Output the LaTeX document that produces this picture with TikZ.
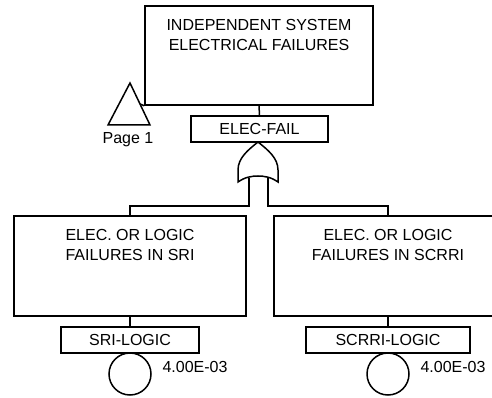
\documentclass[tikz,border=0pt]{standalone}
\usepackage{fontspec}
\setmainfont{Liberation Sans}
\usetikzlibrary{positioning,calc}

\tikzset{
  evbox/.style={draw,line width=1.5pt,minimum width=#1,minimum height=99},
  evtext/.style={anchor=north,inner sep=0pt,align=center},
  labbox/.style={draw,line width=1.5pt,minimum width=#1,minimum height=26,inner sep=0pt},
  basic/.style={draw,line width=1.5pt,circle,minimum size=42,inner sep=0pt},
  conn/.style={line width=1.5pt}
}

\begin{document}
\begin{tikzpicture}[x=1pt,y=-1pt,font=\fontsize{16}{20}\selectfont]
  \useasboundingbox (0,0) rectangle (492,398);
  \clip (0,0) rectangle (492,398);

  % top event
  \node[evbox=228] (top) at (259,55.5) {};
  \node[evtext] (toptxt) at ($(top.north)+(0,14)$) {INDEPENDENT SYSTEM\\ELECTRICAL FAILURES};
  \node[labbox=137] (elecfail) at (259.5,129) {ELEC-FAIL};
  \draw[conn] (top.south) -- (elecfail.north);

  % transfer to page 1
  \draw[conn] (108,125) -- (130,83) -- (150,125) -- cycle;
  \coordinate (xfer) at (140,104);
  \draw[conn] (xfer) -- (top.south west);
  \node[anchor=base] (page) at (128,143.5) {Page 1};

  % OR gate
  \coordinate (orout) at (258,142);
  \draw[conn] (orout) .. controls (248,150) and (238,158) .. (238,170) -- (238,182)
    .. controls (245,177) and (252,176) .. (258,176)
    .. controls (264,176) and (271,177) .. (278,182) -- (278,170)
    .. controls (278,158) and (268,150) .. (orout);
  \coordinate (orin1) at (249,178);
  \coordinate (orin2) at (268,178);

  % branches
  \foreach \nm/\cx/\bw/\txt/\lab/\lw/\gin in {
      sri/130/232/{ELEC. OR LOGIC\\FAILURES IN SRI}/SRI-LOGIC/138/orin1,
      scrri/388/228/{ELEC. OR LOGIC\\FAILURES IN SCRRI}/SCRRI-LOGIC/164/orin2} {
    \node[evbox=\bw,minimum height=100] (\nm) at (\cx,266) {};
    \node[evtext] (\nm txt) at ($(\nm.north)+(0,14)$) {\txt};
    \node[labbox=\lw] (\nm lab) at (\cx,340) {\lab};
    \node[basic] (\nm ev) at (\cx,374) {};
    \node[anchor=base west] (\nm p) at (\cx+29,372.7) {4.00E-03};
    \draw[conn] (\nm.south) -- (\nm lab.north);
    \draw[conn] (\gin) -- (\gin |- 0,206) -| (\nm.north);
  }
\end{tikzpicture}
\end{document}
